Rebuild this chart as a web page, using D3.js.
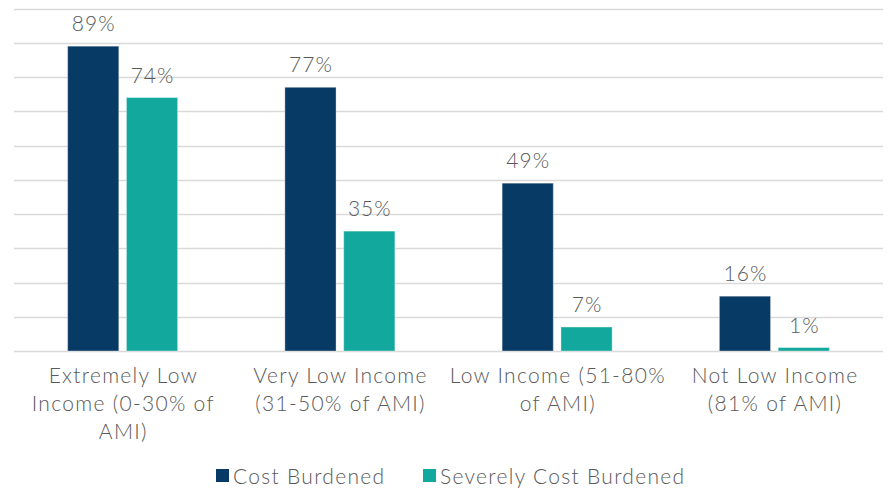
<!DOCTYPE html>
<html>
<head>
<meta charset="utf-8">
<script src="https://cdn.jsdelivr.net/npm/d3@7"></script>
<style>
  html, body { margin: 0; padding: 0; background: #fff; }
  svg { display: block; font-family: "Lato", "Open Sans", sans-serif; }
</style>
</head>
<body>
<svg id="chart" width="888" height="488"></svg>
<script>
// Income groups along the x axis (each label broken into its display lines)
const categories = [
  ["Extremely Low", "Income (0-30% of", "AMI)"],
  ["Very Low Income", "(31-50% of AMI)"],
  ["Low Income (51-80%", "of AMI)"],
  ["Not Low Income", "(81% of AMI)"]
];
const seriesNames = ["Cost Burdened", "Severely Cost Burdened"];
const costBurdened = [89, 77, 49, 16];
const severelyCostBurdened = [74, 35, 7, 1];
const yTicks = [0, 10, 20, 30, 40, 50, 60, 70, 80, 90, 100];
const colors = ["#083a66", "#13a89e"];

const svg = d3.select("#chart");
const margin = { left: 14, right: 5, top: 8.5, bottom: 137 };
const W = 888, H = 488;
const plotBottom = H - margin.bottom;
const textColor = "#595959";

const x = d3.scaleBand()
  .domain(d3.range(categories.length))
  .range([margin.left, W - margin.right])
  .padding(0);

const y = d3.scaleLinear().domain([0, 100]).range([plotBottom, margin.top]);

const xSub = d3.scaleBand()
  .domain([0, 1])
  .range([x.bandwidth() / 2 - 55, x.bandwidth() / 2 + 55])
  .paddingInner(0.13)
  .paddingOuter(0);

// horizontal gridlines
svg.append("g")
  .selectAll("line")
  .data(yTicks)
  .join("line")
  .attr("x1", margin.left)
  .attr("x2", W - margin.right)
  .attr("y1", d => Math.round(y(d)) + 0.5)
  .attr("y2", d => Math.round(y(d)) + 0.5)
  .attr("stroke", "#d9d9d9")
  .attr("stroke-width", 1.5);

const series = [costBurdened, severelyCostBurdened];
const groups = svg.append("g")
  .selectAll("g")
  .data(categories.map((c, i) => i))
  .join("g")
  .attr("transform", i => `translate(${x(i)},0)`);

groups.selectAll("rect")
  .data(i => series.map((s, k) => ({ k, v: s[i] })))
  .join("rect")
  .attr("x", d => xSub(d.k))
  .attr("width", xSub.bandwidth())
  .attr("y", d => y(d.v))
  .attr("height", d => y(0) - y(d.v))
  .attr("fill", d => colors[d.k])
  .attr("stroke", "rgba(255,255,255,0.35)")
  .attr("stroke-width", 1);

groups.selectAll("text.val")
  .data(i => series.map((s, k) => ({ k, v: s[i] })))
  .join("text")
  .attr("class", "val")
  .attr("x", d => xSub(d.k) + xSub.bandwidth() / 2 + 0.5)
  .attr("y", d => y(d.v) - 15)
  .attr("text-anchor", "middle")
  .attr("font-size", 21)
  .attr("font-weight", 300)
  .attr("letter-spacing", 1)
  .attr("fill", textColor)
  .text(d => d.v + "%");

// category labels
const xAxis = svg.append("g");
categories.forEach((lines, i) => {
  const cx = x(i) + x.bandwidth() / 2 + 0.7;
  const t = xAxis.append("text")
    .attr("x", cx)
    .attr("y", plotBottom + 32)
    .attr("text-anchor", "middle")
    .attr("font-size", 21)
    .attr("font-weight", 300)
    .attr("letter-spacing", 1.3)
    .attr("fill", textColor);
  lines.forEach((ln, j) => {
    t.append("tspan")
      .attr("x", cx)
      .attr("dy", j === 0 ? 0 : 28)
      .text(ln);
  });
});

// legend
const legendItems = [
  { name: seriesNames[0], color: colors[0], x: 216 },
  { name: seriesNames[1], color: colors[1], x: 423 }
];
const legend = svg.append("g");
legendItems.forEach(item => {
  legend.append("rect")
    .attr("x", item.x)
    .attr("y", 469)
    .attr("width", 13)
    .attr("height", 13)
    .attr("fill", item.color);
  legend.append("text")
    .attr("x", item.x + 17)
    .attr("y", 484)
    .attr("font-size", 21)
    .attr("font-weight", 300)
    .attr("letter-spacing", 1.3)
    .attr("fill", textColor)
    .text(item.name);
});
</script>
</body>
</html>
